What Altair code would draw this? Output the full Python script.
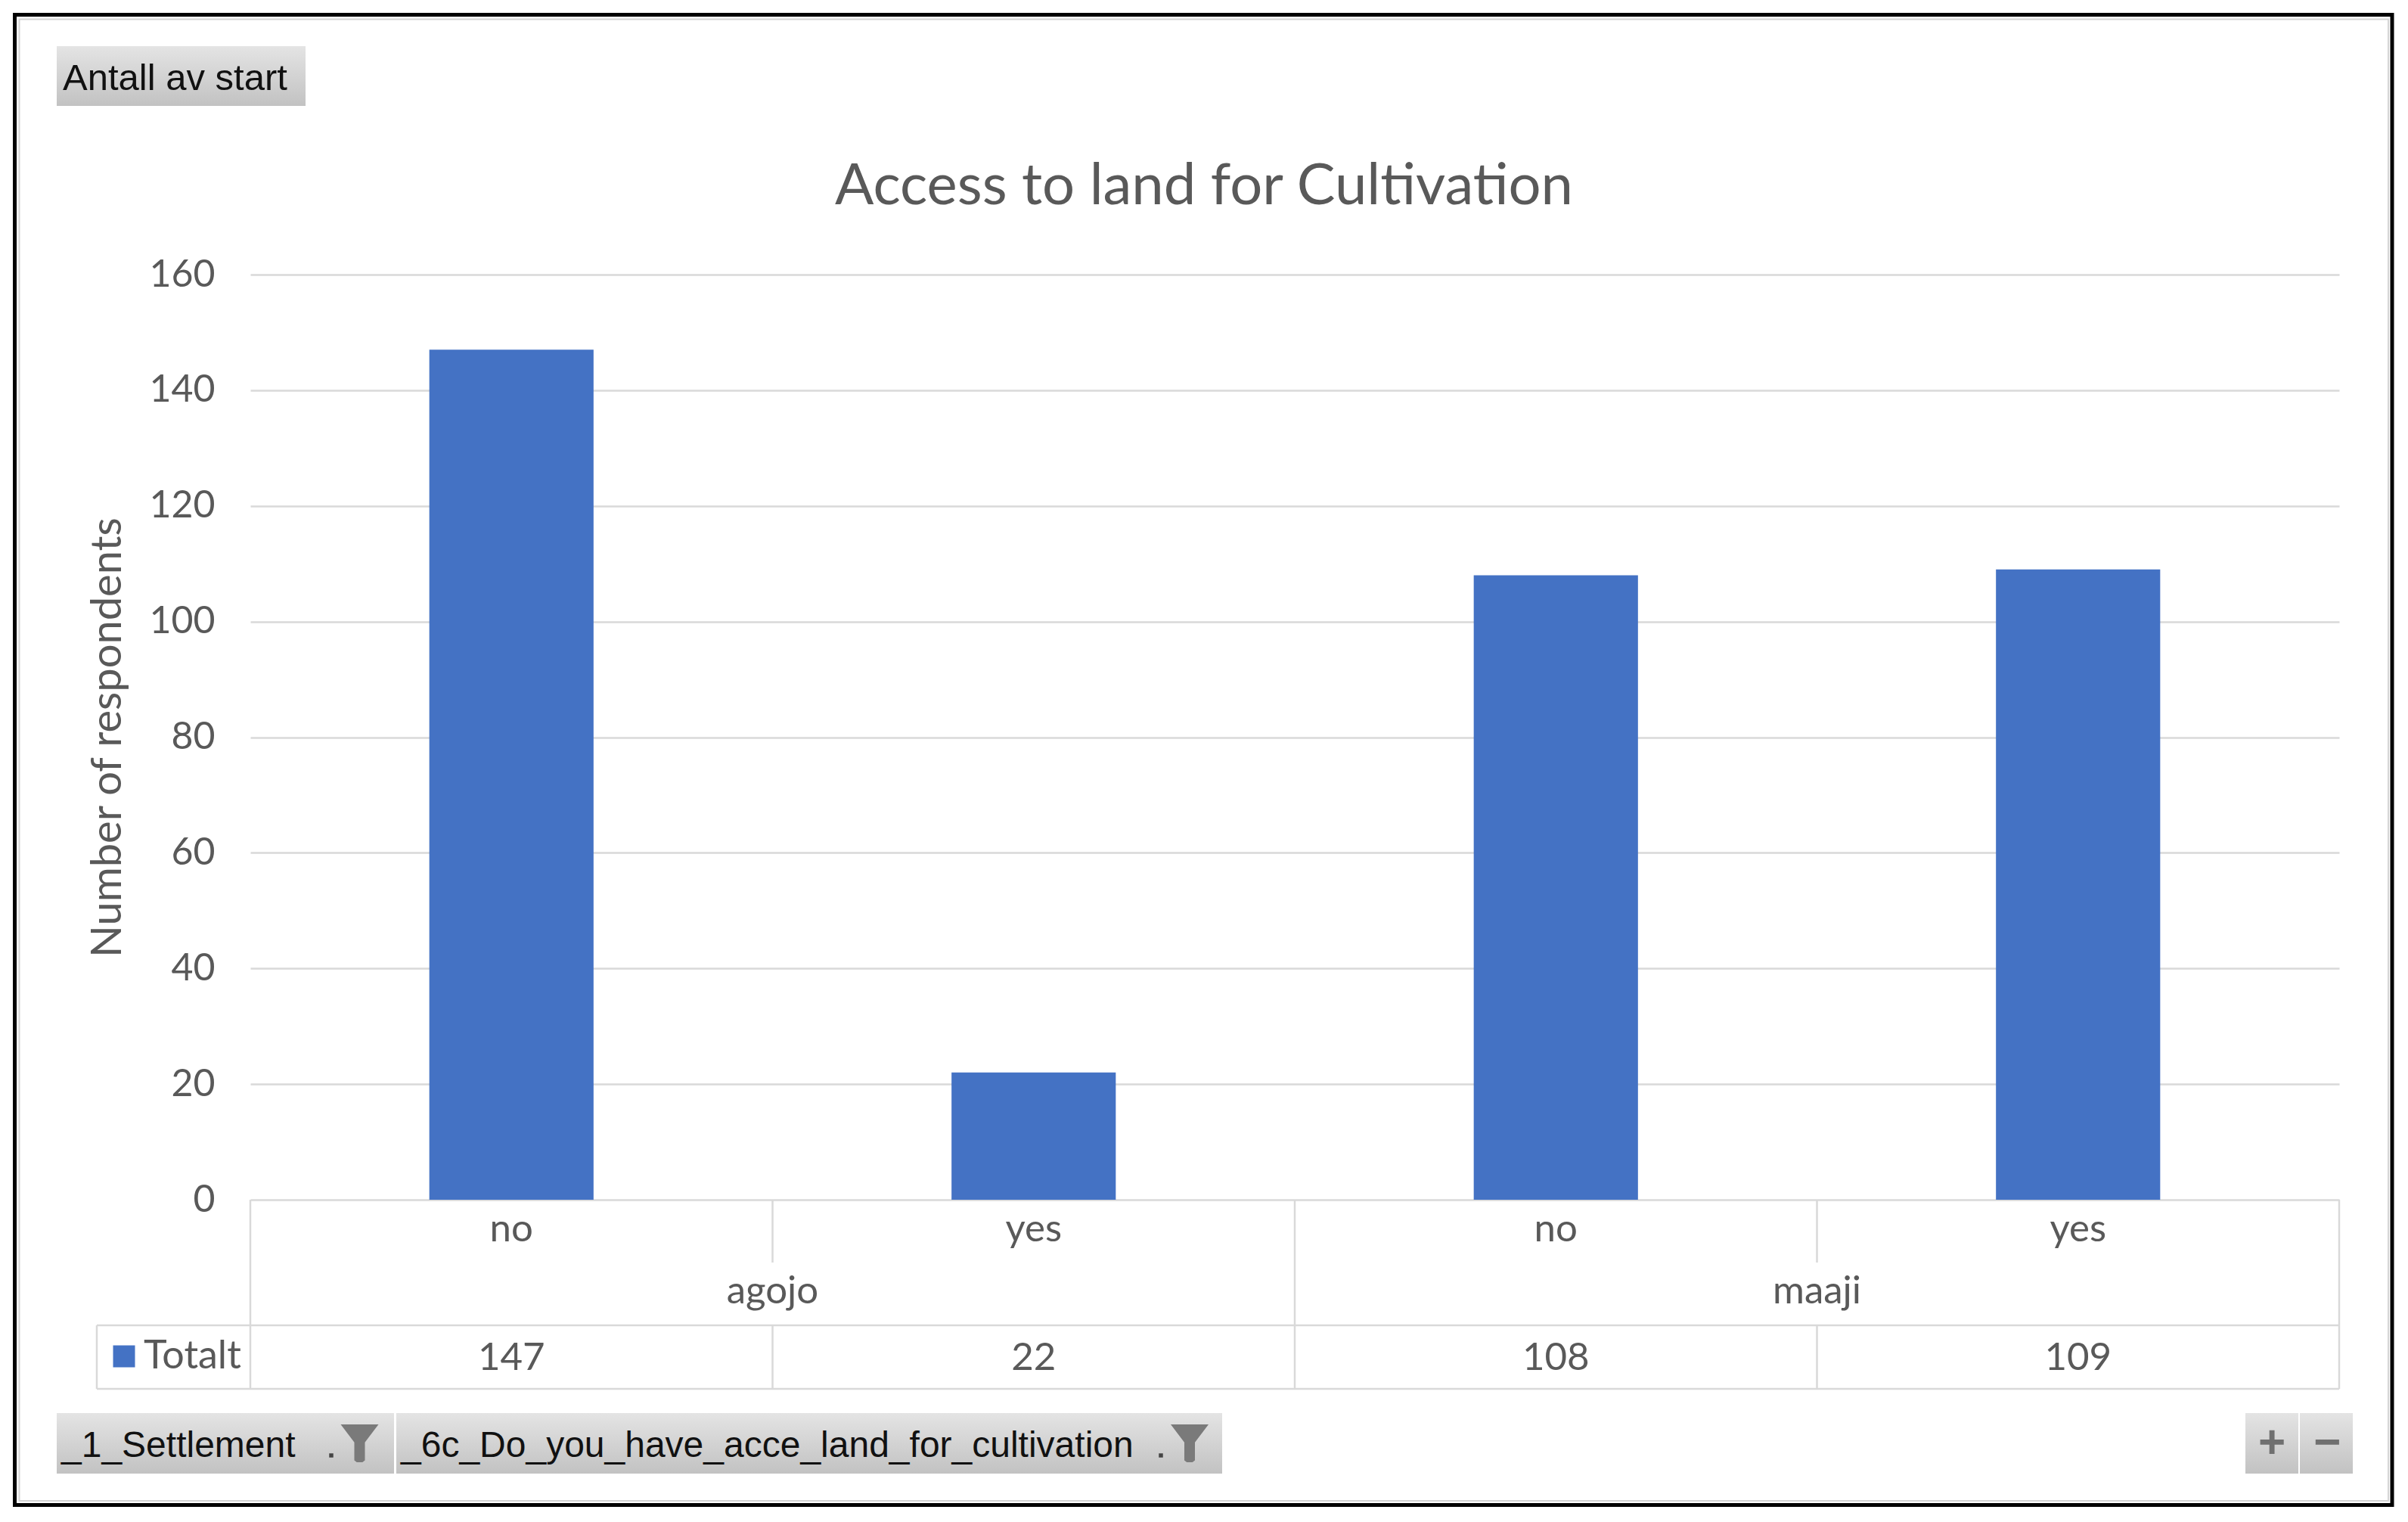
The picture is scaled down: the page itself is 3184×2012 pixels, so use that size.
import altair as alt
import pandas as pd

# ---------------- data ----------------
settlements = ["agojo", "agojo", "maaji", "maaji"]
answers = ["no", "yes", "no", "yes"]
counts = [147, 22, 108, 109]
series_name = "Totalt"
groups = ["agojo", "maaji"]
y_ticks = [0, 20, 40, 60, 80, 100, 120, 140, 160]

title_text = "Access to land for Cultivation"
y_title = "Number of respondents"
top_button_label = "Antall av start"
field_buttons = ["_1_Settlement", "_6c_Do_you_have_acce_land_for_cultivation"]
zoom_buttons = ["+", "\u2212"]

keys = [f"{s}|{a}" for s, a in zip(settlements, answers)]
df = pd.DataFrame({
    "key": keys,
    "settlement": settlements,
    "answer": answers,
    "count": counts,
    "series": [series_name] * len(keys),
    "group_start": [i == 0 or settlements[i] != settlements[i - 1] for i in range(len(keys))],
})
gdf = pd.DataFrame({"settlement": groups})
one = pd.DataFrame({"k": [0]})

# ---------------- style ----------------
W, H = 2762, 1223
FONT = "Lato"
UI_FONT = "Liberation Sans"
TEXT = "#595959"
GRID = "#D9D9D9"
BLUE = "#4472C4"
LW = 2.5

xscale = alt.Scale(domain=keys, paddingInner=0, paddingOuter=0)

bars = alt.Chart(df).mark_bar(width=alt.RelativeBandSize(0.3145)).encode(
    x=alt.X("key:N", scale=xscale,
            axis=alt.Axis(title=None, labels=False, ticks=False, tickSize=0, domain=True,
                          domainColor=GRID, domainWidth=LW, grid=False)),
    y=alt.Y("count:Q", scale=alt.Scale(domain=[0, 160], nice=False),
            axis=alt.Axis(values=y_ticks, title=y_title, titleFont=FONT, titleFontSize=56,
                          titleFontWeight="normal", titleColor=TEXT, titleX=-189, titleY=H / 2,
                          titleAngle=270, titleAlign="center", titleBaseline="middle",
                          labelFont=FONT, labelFontSize=50, labelColor=TEXT, labelPadding=47,
                          domain=False, ticks=False, grid=True, gridColor=GRID, gridWidth=LW)),
    color=alt.Color("series:N", scale=alt.Scale(domain=[series_name], range=[BLUE]),
                    legend=alt.Legend(orient="none", legendX=-193, legendY=1404, title=None,
                                      symbolType="square", symbolSize=841, symbolStrokeWidth=0,
                                      symbolOpacity=1, labelFont=FONT, labelFontSize=52,
                                      labelColor=TEXT, labelOffset=0, padding=0)),
)

xk0 = alt.X("key:N", scale=xscale, bandPosition=0, axis=None)
group_sep = alt.Chart(df).transform_filter("datum.group_start").mark_rule(
    color=GRID, strokeWidth=LW).encode(x=xk0, y=alt.value(H), y2=alt.value(1473))
inner_top = alt.Chart(df).transform_filter("!datum.group_start").mark_rule(
    color=GRID, strokeWidth=LW).encode(x=xk0, y=alt.value(H), y2=alt.value(1306))
inner_bot = alt.Chart(df).transform_filter("!datum.group_start").mark_rule(
    color=GRID, strokeWidth=LW).encode(x=xk0, y=alt.value(1389), y2=alt.value(1473))
right_edge = alt.Chart(df).transform_filter(f"datum.key == '{keys[-1]}'").mark_rule(
    color=GRID, strokeWidth=LW).encode(
    x=alt.X("key:N", scale=xscale, bandPosition=1, axis=None), y=alt.value(H), y2=alt.value(1473))
answer_text = alt.Chart(df).mark_text(font=FONT, fontSize=51, color=TEXT, baseline="middle").encode(
    x=alt.X("key:N", scale=xscale, axis=None), y=alt.value(1263), text="answer:N")
values_text = alt.Chart(df).mark_text(font=FONT, fontSize=51, color=TEXT, baseline="middle").encode(
    x=alt.X("key:N", scale=xscale, axis=None), y=alt.value(1433), text="count:Q")

inner = alt.layer(bars, group_sep, inner_top, inner_bot, right_edge, answer_text, values_text)

group_text = alt.Chart(gdf).mark_text(font=FONT, fontSize=51, color=TEXT, baseline="middle").encode(
    x=alt.X("settlement:N", scale=alt.Scale(domain=groups, paddingInner=0, paddingOuter=0), axis=None),
    y=alt.value(1345), text="settlement:N")


def rule(x, x2, y, y2, color=GRID, width=LW):
    return alt.Chart(one).mark_rule(color=color, strokeWidth=width).encode(
        x=alt.value(x), x2=alt.value(x2), y=alt.value(y), y2=alt.value(y2))


grad = alt.LinearGradient(gradient="linear",
                          stops=[alt.GradientStop(color="#E4E4E4", offset=0),
                                 alt.GradientStop(color="#C2C2C2", offset=1)],
                          x1=0, x2=0, y1=0, y2=1)


def button(x, x2, y, y2):
    return alt.Chart(one).mark_rect(fill=grad).encode(
        x=alt.value(x), x2=alt.value(x2), y=alt.value(y), y2=alt.value(y2))


def label(txt, x, y, size=48, align="left", color="#111111", weight="normal", font=UI_FONT):
    return alt.Chart(one).mark_text(font=font, fontSize=size, align=align, baseline="middle",
                                    color=color, fontWeight=weight).encode(
        x=alt.value(x), y=alt.value(y), text=alt.value(txt))


funnel_path = "M-1,-1 L1,-1 L0.28,-0.05 L0.28,0.9 L0.15,1 L-0.15,1 L-0.28,0.9 L-0.28,-0.05 Z"


def funnel(x, y):
    return alt.Chart(one).mark_point(shape=funnel_path, filled=True, color="#7A7A7A",
                                     size=2500, opacity=1).encode(x=alt.value(x), y=alt.value(y))


def dot(x, y):
    return alt.Chart(one).mark_square(color="#444444", size=30, opacity=1).encode(
        x=alt.value(x), y=alt.value(y))


hlines = [rule(-203, W, 1389, 1389), rule(-203, W, 1473, 1473), rule(-203, -203, 1389, 1473)]

frame_outer = alt.Chart(one).mark_rect(filled=False, stroke="#000000", strokeWidth=5).encode(
    x=alt.value(-311.5), x2=alt.value(2832), y=alt.value(-343.5), y2=alt.value(1626.5))
frame_inner = alt.Chart(one).mark_rect(filled=False, stroke="#D4D4D4", strokeWidth=2).encode(
    x=alt.value(-305.5), x2=alt.value(2827), y=alt.value(-337.5), y2=alt.value(1621))

decor = [
    frame_outer, frame_inner,
    button(-256, 73, -302, -223), label(top_button_label, -248, -259.5, size=49),
    button(-256, 190, 1505, 1585), label(field_buttons[0], -250, 1549),
    dot(107, 1561), funnel(144.5, 1545),
    button(193, 1285, 1505, 1585), label(field_buttons[1], 199, 1549),
    dot(1204, 1561), funnel(1242, 1545),
    button(2638, 2708, 1505, 1585), button(2710, 2780, 1505, 1585),
    label(zoom_buttons[0], 2673, 1545, size=62, align="center", color="#707070", weight="bold"),
    label(zoom_buttons[1], 2746, 1545, size=62, align="center", color="#707070", weight="bold"),
]

chart = alt.layer(inner, group_text, *hlines, *decor).resolve_scale(x="independent").properties(
    width=W, height=H,
    padding={"left": 323, "top": 355, "right": 79, "bottom": 412},
    autosize=alt.AutoSizeParams(type="none"),
    background="#FFFFFF",
    title=alt.TitleParams(text=title_text, font=FONT, fontSize=76, fontWeight="normal",
                          color=TEXT, anchor="middle", frame="group", dx=-120,
                          baseline="alphabetic", offset=-329),
).configure_view(strokeWidth=0)

chart.save("out.html", embed_options={"renderer": "svg", "actions": False})
